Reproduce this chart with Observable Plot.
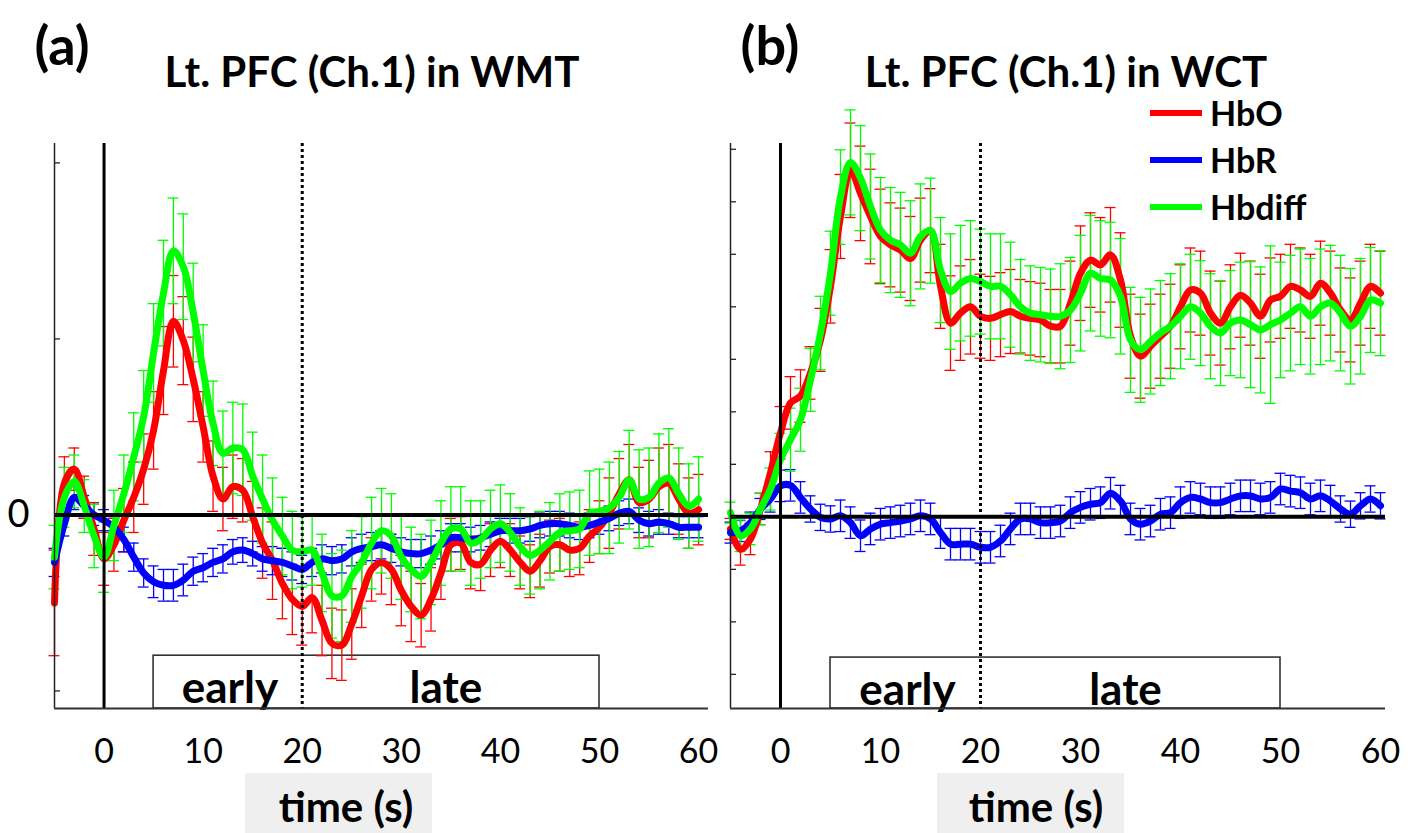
<!DOCTYPE html>
<html>
<head>
<meta charset="utf-8">
<script src="https://cdn.jsdelivr.net/npm/d3@7"></script>
<script src="https://cdn.jsdelivr.net/npm/@observablehq/plot@0.6"></script>
<style>
  html, body { margin: 0; padding: 0; background: #fff; }
  #root { position: relative; width: 1413px; height: 833px; overflow: hidden; font-family: Lato, "Open Sans", sans-serif; color: #000; }
  .c { position: absolute; white-space: nowrap; transform: translate(-50%, -50%); line-height: 1; }
  .l { position: absolute; white-space: nowrap; transform: translate(0, -50%); line-height: 1; }
  .bold { font-weight: 700; }
  .xlab { position: absolute; background: #efefef; top: 773px; height: 60px; }
  .leg { position: absolute; height: 6px; width: 52px; }
  .panel { position: absolute; top: 0; }
</style>
</head>
<body>
<div id="root"></div>
<script>
// ---------- data ----------
const time = [-5,-4,-3,-2,-1,0,1,2,3,4,5,6,7,8,9,10,11,12,13,14,15,16,17,18,19,20,21,22,23,24,25,26,27,28,29,30,31,32,33,34,35,36,37,38,39,40,41,42,43,44,45,46,47,48,49,50,51,52,53,54,55,56,57,58,59,60];
const seriesNames = ["HbO", "HbR", "Hbdiff"];
const xTickLabels = [0, 10, 20, 30, 40, 50, 60];
const yTicksA = [-1, 0, 1, 2];
const yTicksB = [-3, -2, -1, 0, 1, 2, 3, 4, 5, 6, 7];
const phaseLabels = ["early", "late"];

// (a) Lt. PFC (Ch.1) in WMT
const a_HbO = [-0.50,0.18,0.26,0.10,-0.08,-0.25,-0.17,-0.03,0.10,0.26,0.48,0.82,1.10,0.99,0.77,0.50,0.22,0.09,0.16,0.14,-0.01,-0.16,-0.26,-0.39,-0.48,-0.52,-0.47,-0.60,-0.73,-0.74,-0.62,-0.46,-0.31,-0.27,-0.31,-0.43,-0.52,-0.57,-0.48,-0.33,-0.17,-0.16,-0.27,-0.28,-0.20,-0.15,-0.20,-0.27,-0.32,-0.26,-0.18,-0.17,-0.20,-0.19,-0.12,-0.07,0.01,0.12,0.20,0.07,0.09,0.16,0.18,0.09,0.01,0.03];
const a_HbR = [-0.27,-0.05,0.10,0.05,0.00,-0.03,-0.07,-0.14,-0.24,-0.33,-0.38,-0.40,-0.40,-0.37,-0.32,-0.30,-0.27,-0.25,-0.21,-0.20,-0.22,-0.25,-0.26,-0.27,-0.29,-0.31,-0.27,-0.25,-0.26,-0.25,-0.21,-0.19,-0.18,-0.17,-0.19,-0.21,-0.22,-0.22,-0.20,-0.17,-0.13,-0.13,-0.14,-0.13,-0.11,-0.09,-0.09,-0.09,-0.08,-0.06,-0.05,-0.05,-0.06,-0.07,-0.06,-0.04,-0.02,0.01,0.02,-0.03,-0.05,-0.04,-0.05,-0.07,-0.07,-0.07];
const a_Hbdiff = [-0.24,0.10,0.19,0.05,-0.12,-0.24,-0.06,0.12,0.33,0.56,0.92,1.26,1.50,1.41,1.15,0.82,0.52,0.35,0.38,0.37,0.22,0.09,-0.03,-0.12,-0.20,-0.21,-0.20,-0.33,-0.46,-0.46,-0.35,-0.27,-0.16,-0.09,-0.12,-0.24,-0.31,-0.35,-0.27,-0.16,-0.08,-0.08,-0.16,-0.14,-0.08,-0.05,-0.10,-0.18,-0.23,-0.20,-0.15,-0.10,-0.09,-0.08,0.01,0.02,0.04,0.10,0.20,0.09,0.10,0.18,0.21,0.12,0.05,0.09];
const a_HbO_err = [0.30,0.15,0.12,0.12,0.15,0.15,0.15,0.18,0.20,0.20,0.22,0.25,0.26,0.25,0.24,0.20,0.20,0.18,0.18,0.18,0.20,0.20,0.22,0.20,0.20,0.22,0.20,0.20,0.20,0.20,0.20,0.18,0.18,0.18,0.20,0.20,0.20,0.18,0.18,0.15,0.15,0.15,0.15,0.15,0.15,0.15,0.15,0.15,0.15,0.15,0.15,0.15,0.15,0.15,0.15,0.15,0.20,0.20,0.20,0.20,0.22,0.22,0.22,0.20,0.20,0.20];
const a_HbR_err = [0.08,0.07,0.07,0.06,0.06,0.06,0.06,0.07,0.08,0.08,0.09,0.09,0.09,0.09,0.08,0.08,0.08,0.08,0.07,0.07,0.07,0.07,0.08,0.08,0.08,0.08,0.08,0.08,0.08,0.08,0.08,0.08,0.08,0.08,0.08,0.08,0.08,0.08,0.08,0.08,0.08,0.08,0.07,0.07,0.07,0.07,0.07,0.07,0.07,0.07,0.07,0.07,0.07,0.07,0.07,0.07,0.07,0.07,0.07,0.07,0.07,0.07,0.06,0.06,0.06,0.06];
const a_Hbdiff_err = [0.18,0.17,0.15,0.15,0.18,0.20,0.20,0.22,0.25,0.26,0.28,0.30,0.30,0.30,0.28,0.26,0.24,0.24,0.26,0.26,0.25,0.25,0.24,0.22,0.22,0.20,0.20,0.22,0.24,0.26,0.26,0.26,0.26,0.24,0.24,0.24,0.24,0.24,0.24,0.24,0.24,0.24,0.24,0.22,0.22,0.22,0.22,0.22,0.22,0.22,0.22,0.22,0.22,0.22,0.24,0.24,0.26,0.26,0.28,0.28,0.28,0.28,0.28,0.26,0.24,0.24];

// (b) Lt. PFC (Ch.1) in WCT
const b_HbO = [-0.23,-0.62,-0.42,0.15,0.84,1.60,2.17,2.30,2.74,3.37,4.39,5.72,6.60,6.16,5.72,5.34,5.18,5.08,4.92,5.27,5.45,4.39,3.69,3.88,4.00,3.82,3.78,3.85,3.91,3.82,3.78,3.75,3.63,3.63,4.07,4.64,4.89,4.80,4.99,4.51,3.44,3.06,3.25,3.44,3.63,4.00,4.32,4.26,3.88,3.69,4.00,4.22,4.07,3.82,4.13,4.20,4.39,4.32,4.20,4.45,4.26,3.94,3.75,4.07,4.39,4.26];
const b_HbR = [-0.30,-0.27,-0.11,0.15,0.34,0.59,0.60,0.37,0.15,-0.01,-0.04,0.02,-0.11,-0.36,-0.23,-0.14,-0.11,-0.08,-0.04,0.02,-0.04,-0.30,-0.52,-0.52,-0.52,-0.58,-0.58,-0.46,-0.23,-0.04,-0.04,-0.11,-0.11,-0.08,0.08,0.18,0.24,0.27,0.45,0.30,-0.04,-0.14,-0.08,0.05,0.08,0.27,0.37,0.34,0.27,0.27,0.34,0.40,0.40,0.34,0.37,0.53,0.49,0.46,0.34,0.40,0.30,0.15,0.05,0.21,0.34,0.21];
const b_Hbdiff = [0.08,-0.36,-0.23,0.15,0.53,1.09,1.47,1.85,2.61,3.50,4.64,6.09,6.75,6.45,5.91,5.46,5.27,5.18,5.02,5.34,5.45,4.70,4.29,4.45,4.54,4.48,4.39,4.39,4.23,4.00,3.88,3.85,3.82,3.82,3.94,4.26,4.64,4.54,4.51,4.20,3.37,3.18,3.34,3.50,3.63,3.82,4.00,3.88,3.63,3.50,3.69,3.75,3.66,3.56,3.66,3.75,3.88,4.00,3.82,4.00,4.07,3.88,3.63,3.82,4.13,4.07];
const b_HbO_err = [0.20,0.30,0.30,0.30,0.40,0.50,0.50,0.50,0.50,0.60,0.70,0.80,0.90,0.90,0.90,0.90,0.80,0.80,0.80,0.80,0.80,0.80,0.90,0.90,0.90,0.80,0.80,0.80,0.80,0.70,0.70,0.70,0.70,0.70,0.80,0.90,0.90,0.90,0.90,0.90,0.80,0.80,0.80,0.80,0.80,0.80,0.80,0.80,0.80,0.80,0.80,0.80,0.80,0.80,0.80,0.80,0.80,0.80,0.80,0.80,0.80,0.80,0.80,0.80,0.80,0.80];
const b_HbR_err = [0.20,0.20,0.20,0.20,0.25,0.30,0.30,0.30,0.25,0.25,0.25,0.30,0.30,0.30,0.30,0.30,0.30,0.30,0.30,0.30,0.30,0.30,0.30,0.30,0.30,0.30,0.30,0.30,0.30,0.30,0.30,0.30,0.30,0.30,0.30,0.30,0.30,0.30,0.30,0.30,0.30,0.30,0.30,0.30,0.30,0.30,0.30,0.30,0.30,0.30,0.30,0.30,0.30,0.30,0.30,0.30,0.30,0.30,0.30,0.30,0.30,0.25,0.25,0.25,0.25,0.25];
const b_Hbdiff_err = [0.20,0.30,0.30,0.30,0.40,0.50,0.60,0.60,0.60,0.70,0.80,0.90,1.00,1.00,1.00,1.00,1.00,1.00,1.00,1.00,1.00,1.00,1.10,1.10,1.10,1.00,1.00,1.00,1.00,0.90,0.90,0.90,0.90,1.00,1.00,1.10,1.10,1.10,1.10,1.10,1.00,1.00,1.00,1.00,1.00,1.00,1.00,1.00,1.00,1.00,1.00,1.10,1.20,1.20,1.50,1.10,1.10,1.10,1.10,1.10,1.10,1.10,1.10,1.10,1.00,1.00];

const colors = {HbO: "#ff0000", HbR: "#0000ff", Hbdiff: "#00ff00"};

function rows(vals, errs) {
  return time.map((t, i) => ({t, v: vals[i], e: errs[i]}));
}

function panel(cfg) {
  const sets = [
    {name: "HbO", data: rows(cfg.HbO, cfg.HbO_err)},
    {name: "HbR", data: rows(cfg.HbR, cfg.HbR_err)},
    {name: "Hbdiff", data: rows(cfg.Hbdiff, cfg.Hbdiff_err)}
  ];
  const [x0] = cfg.xDomain;
  const [y0] = cfg.yDomain;
  const cap = 0.55;
  const marks = [];
  // early/late box
  marks.push(Plot.rect([{x1: 5, x2: 50}], {x1: "x1", x2: "x2", y1: y0, y2: cfg.boxTop, fill: "none", stroke: "#333", strokeWidth: 1.6}));
  marks.push(Plot.text([phaseLabels[0]], {x: 12.7, y: cfg.labelY, text: d => d, fontSize: 44, fontWeight: 700, fill: "#000"}));
  marks.push(Plot.text([phaseLabels[1]], {x: 34.5, y: cfg.labelY, text: d => d, fontSize: 44, fontWeight: 700, fill: "#000"}));
  // error bars
  for (const s of sets) {
    const c = colors[s.name];
    marks.push(Plot.ruleX(s.data, {x: "t", y1: d => d.v - d.e, y2: d => d.v + d.e, stroke: c, strokeWidth: 1.3}));
    marks.push(Plot.ruleY(s.data, {y: d => d.v + d.e, x1: d => d.t - cap, x2: d => d.t + cap, stroke: c, strokeWidth: 1.3}));
    marks.push(Plot.ruleY(s.data, {y: d => d.v - d.e, x1: d => d.t - cap, x2: d => d.t + cap, stroke: c, strokeWidth: 1.3}));
  }
  // mean curves
  for (const s of sets) {
    marks.push(Plot.line(s.data, {x: "t", y: "v", stroke: colors[s.name], strokeWidth: 7, curve: "catmull-rom"}));
  }
  // reference lines
  marks.push(Plot.ruleY([0], {stroke: "#000", strokeWidth: 4}));
  marks.push(Plot.ruleX([0], {stroke: "#000", strokeWidth: 3}));
  marks.push(Plot.ruleX([20], {stroke: "#000", strokeWidth: 3, strokeDasharray: "3,3"}));
  // axes frame
  marks.push(Plot.ruleX([x0], {stroke: "#222", strokeWidth: 1.5}));
  marks.push(Plot.ruleY([y0], {stroke: "#333", strokeWidth: 1.8}));
  marks.push(Plot.ruleY(cfg.yTicks, {y: d => d, x1: x0, x2: x0 + cfg.tickLen, stroke: "#222", strokeWidth: 1.3}));
  marks.push(Plot.axisX({ticks: xTickLabels, tickSize: 0, tickPadding: 30, fontSize: 34, tickFormat: d => String(d)}));
  if (cfg.zeroLabel) {
    marks.push(Plot.text([0], {x: x0, y: d => d, text: () => "0", dx: -36, fontSize: 38, fill: "#000"}));
  }
  return Plot.plot({
    width: cfg.width, height: 770,
    marginLeft: cfg.marginLeft, marginRight: cfg.marginRight, marginTop: 143, marginBottom: 62,
    x: {domain: cfg.xDomain},
    y: {domain: cfg.yDomain, axis: null},
    style: {background: "transparent", overflow: "visible", fontFamily: "Lato, 'Open Sans', sans-serif", fontSize: "34px", color: "#000"},
    marks
  });
}

const root = document.getElementById("root");

const pa = panel({
  width: 720, marginLeft: 54, marginRight: 12,
  xDomain: [-5, 61], yDomain: [-1.1, 2.11], yTicks: yTicksA, tickLen: 0.6,
  boxTop: -0.80, labelY: -0.99, zeroLabel: true,
  HbO: a_HbO, HbR: a_HbR, Hbdiff: a_Hbdiff,
  HbO_err: a_HbO_err, HbR_err: a_HbR_err, Hbdiff_err: a_Hbdiff_err
});
pa.classList.add("panel");
pa.style.left = "0px";
root.appendChild(pa);

const pb = panel({
  width: 713, marginLeft: 30, marginRight: 28,
  xDomain: [-5, 60.5], yDomain: [-3.65, 7.11], yTicks: yTicksB, tickLen: 0.6,
  boxTop: -2.68, labelY: -3.31, zeroLabel: false,
  HbO: b_HbO, HbR: b_HbR, Hbdiff: b_Hbdiff,
  HbO_err: b_HbO_err, HbR_err: b_HbR_err, Hbdiff_err: b_Hbdiff_err
});
pb.classList.add("panel");
pb.style.left = "700px";
root.appendChild(pb);

// ---------- text / legend (HTML) ----------
function addText(txt, x, y, size, cls) {
  const d = document.createElement("div");
  d.className = cls;
  d.style.left = x + "px";
  d.style.top = y + "px";
  d.style.fontSize = size + "px";
  d.textContent = txt;
  root.appendChild(d);
  return d;
}
function addBox(x, w) {
  const d = document.createElement("div");
  d.className = "xlab";
  d.style.left = x + "px";
  d.style.width = w + "px";
  root.appendChild(d);
}
addBox(245, 187);
addBox(937, 187);
addText("(a)", 62, 45, 54, "c bold");
addText("Lt. PFC (Ch.1) in WMT", 372, 71, 42, "c bold");
addText("(b)", 770, 45, 54, "c bold");
addText("Lt. PFC (Ch.1) in WCT", 1066, 71, 42, "c bold");
addText("time (s)", 346, 806, 42, "c bold");
addText("time (s)", 1036, 806, 42, "c bold");

const legY = [113, 160, 207];
seriesNames.forEach((n, i) => {
  const ln = document.createElement("div");
  ln.className = "leg";
  ln.style.left = "1150px";
  ln.style.top = (legY[i] - 3) + "px";
  ln.style.background = colors[n];
  root.appendChild(ln);
  addText(n, 1210, legY[i], 34, "l bold");
});
</script>
</body>
</html>
